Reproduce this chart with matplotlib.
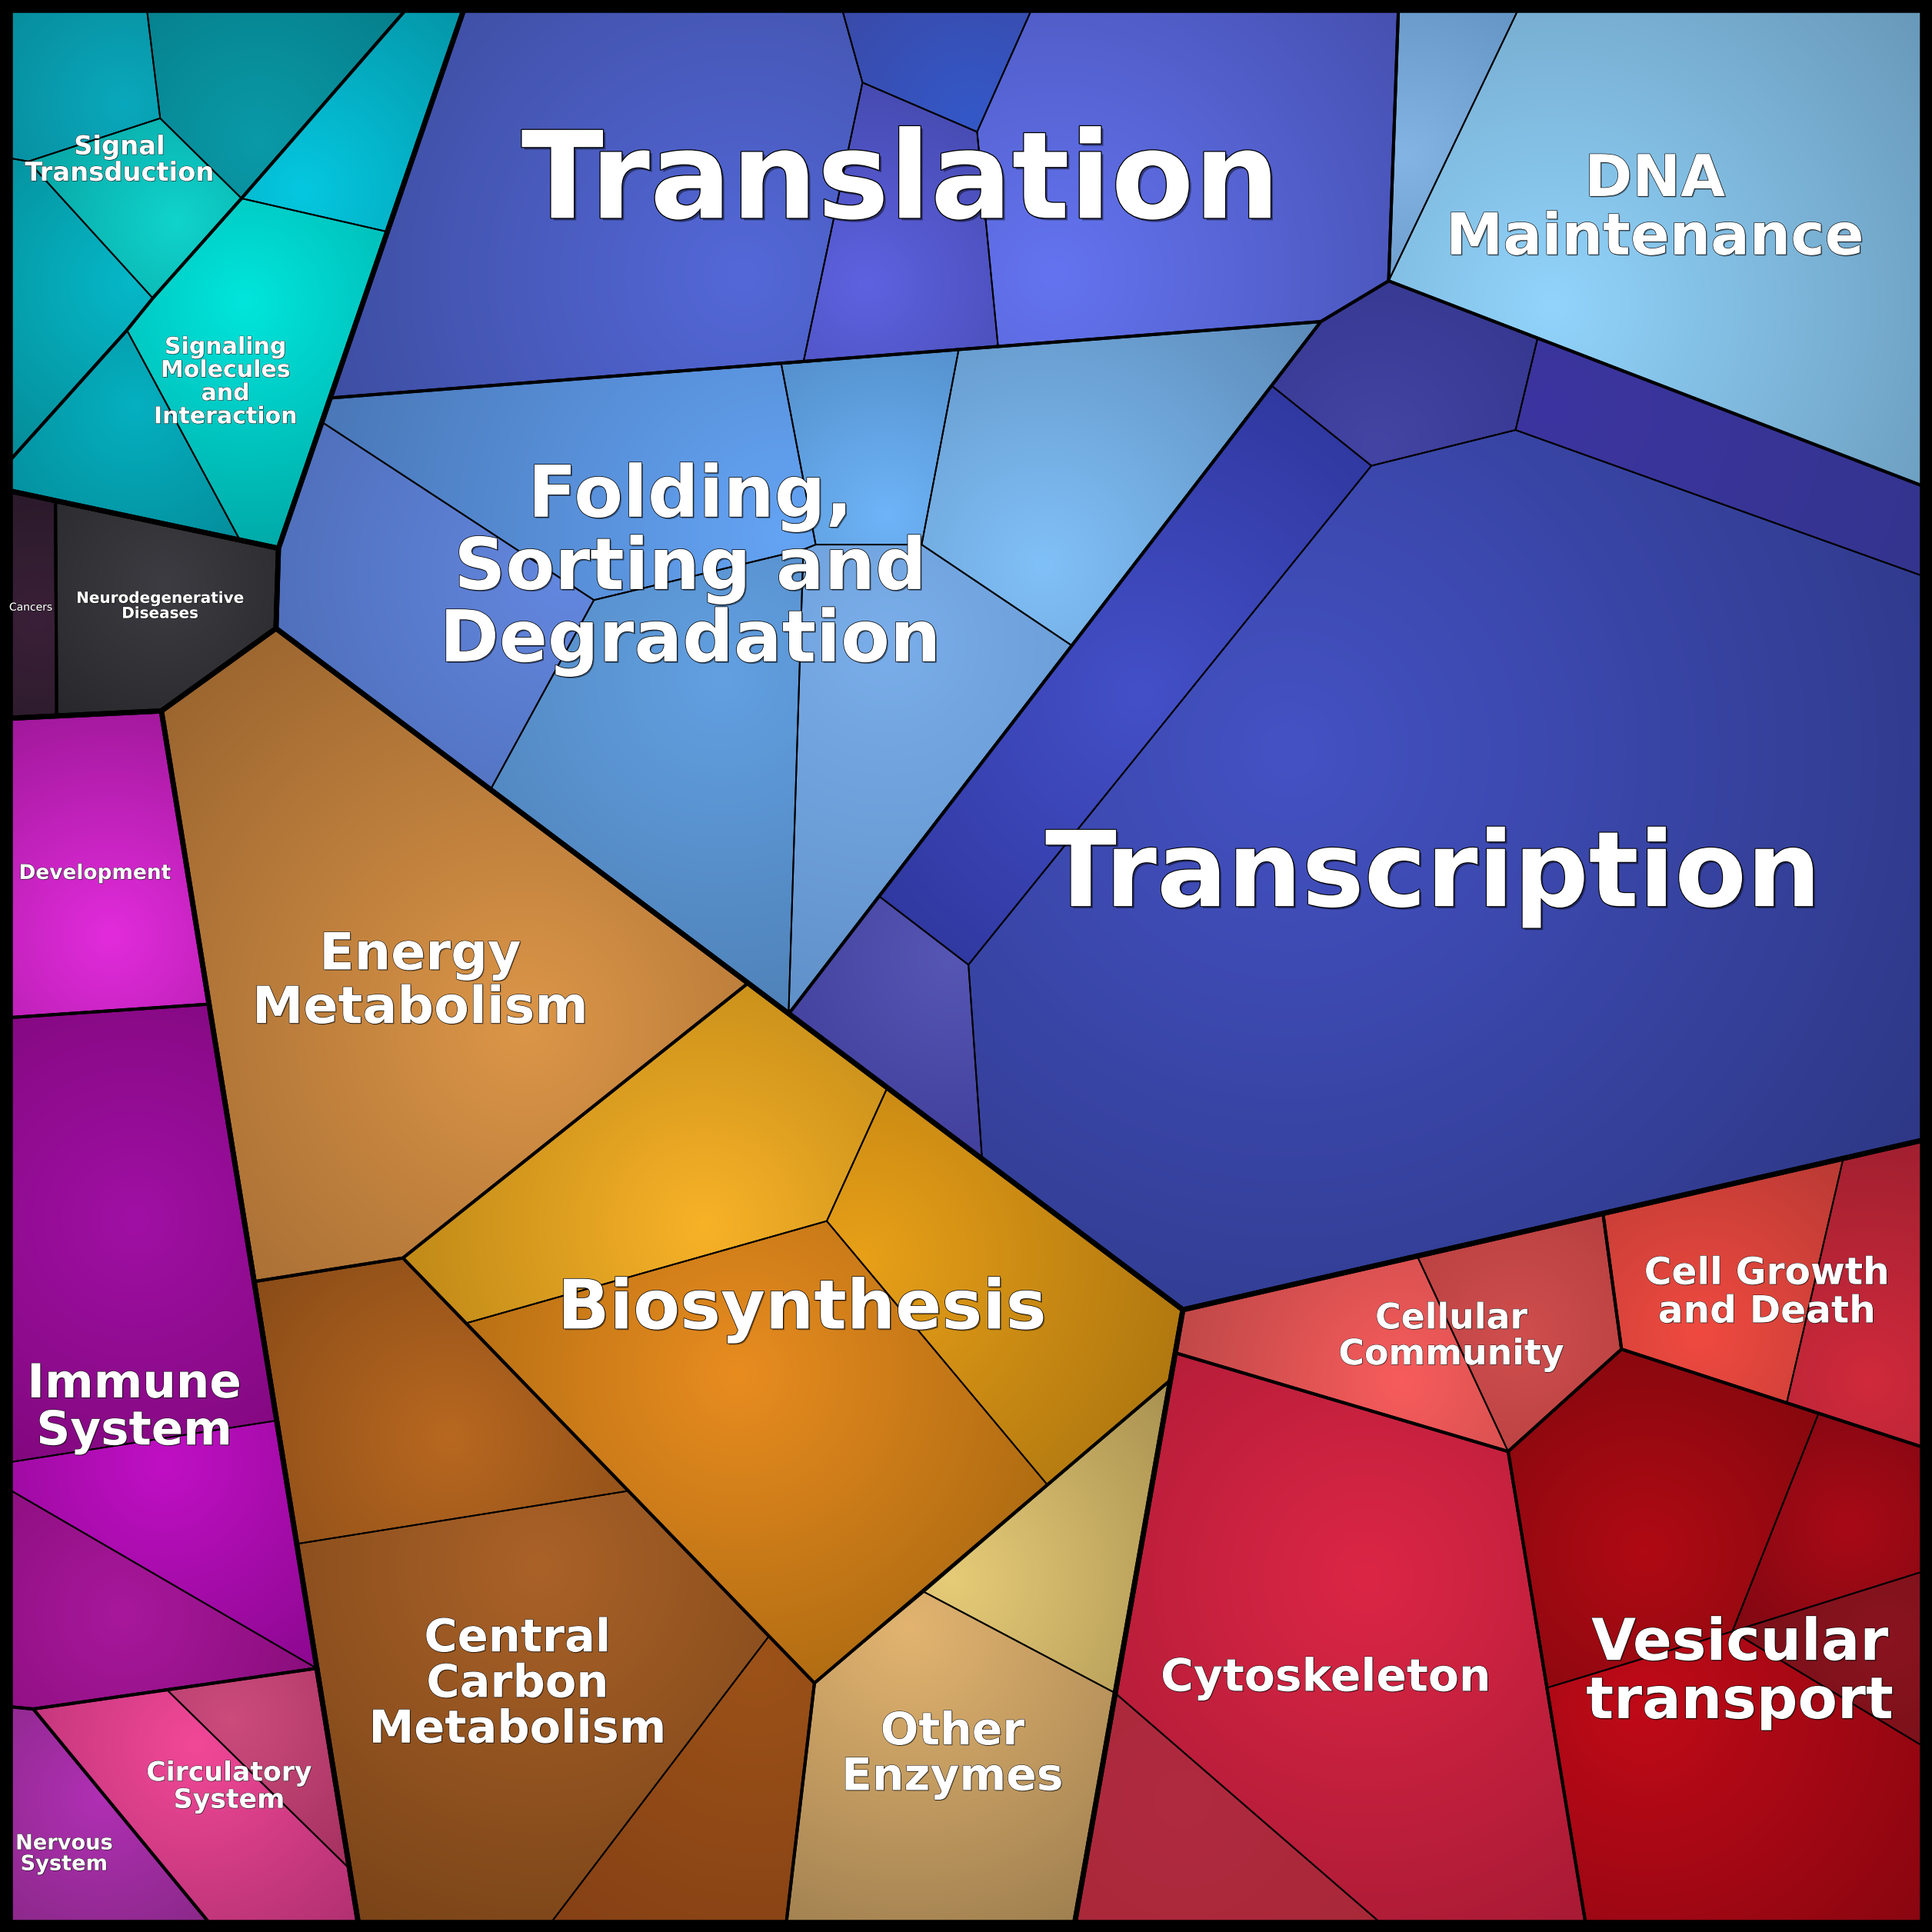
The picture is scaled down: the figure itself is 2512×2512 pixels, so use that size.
import numpy as np
import matplotlib.pyplot as plt
from matplotlib.patches import Polygon
from matplotlib.colors import to_rgb
import matplotlib.patheffects as pe

# layout grid: 1568 x 1568 units, y grows downwards
nodes = {
    'tl': (6, 6), 'tr': (1562, 6), 'bl': (6, 1562), 'br': (1562, 1562),
    # environmental
    't_b': (119, 6), 't_c': (331, 6), 't_d': (377, 6), 't_e': (130, 96), 't_f': (23, 131),
    't_g': (6, 128), 't_h': (196, 161), 't_i': (314, 188), 't_j': (124, 242), 't_k': (103, 268),
    't_l': (6, 376), 't_m': (226, 445), 't_n': (194, 437), 't_o': (6, 398),
    # diseases
    'd_a': (45, 406), 'd_b': (224, 510), 'd_c': (131, 577), 'd_d': (46, 581), 'd_e': (6, 583),
    # translation
    'g1': (683, 6), 'g2': (700, 67), 'g3': (838, 6), 'g4': (793, 107), 'g5': (810, 281),
    'g6': (652, 294), 'g7': (1135, 6), 'g8': (1127, 228), 'g9': (1072, 261), 'g0': (268, 323),
    # folding
    'f1': (634, 295), 'f2': (662, 442), 'f3': (748, 442), 'f4': (778, 284), 'f5': (870, 524),
    'f6': (482, 487), 'f7': (262, 343), 'f8': (398, 641), 'f9': (652, 446), 'f10': (640, 823),
    # transcription
    'r1': (1032, 313), 'r2': (1113, 378), 'r3': (1230, 349), 'r4': (1248, 274), 'r5': (1562, 395),
    'r6': (1562, 468), 'r7': (786, 783), 'r8': (713, 727), 'r9': (797, 940), 'r10': (1562, 925),
    'r11': (960, 1063),
    # dna
    'n1': (1233, 6),
    # metabolism
    'm1': (720, 883), 'm2': (671, 991), 'm3': (378, 1074), 'm4': (327, 1021), 'm5': (607, 798),
    'm6': (950, 1120), 'm7': (850, 1205), 'm8': (661, 1366), 'm9': (207, 1040), 'm10': (241, 1253),
    'm11': (510, 1210), 'm12': (624, 1328), 'm13': (446, 1562), 'm14': (291, 1562), 'm15': (638, 1562),
    'm16': (750, 1292), 'm17': (905, 1374), 'm18': (872, 1562),
    # cellular processes
    'c1': (1150, 1019), 'c2': (1301, 985), 'c3': (1316, 1095), 'c4': (1224, 1178), 'c5': (954, 1098),
    'c6': (1496, 940), 'c7': (1450, 1139), 'c8': (1562, 1175), 'c9': (1476, 1147), 'c10': (1287, 1562),
    'c11': (1122, 1562), 'c12': (1406, 1324), 'c13': (1255, 1370), 'c14': (1562, 1275), 'c15': (1562, 1418),
    # organismal
    'o1': (169, 815), 'o2': (6, 826), 'o3': (224, 1153), 'o4': (6, 1187), 'o5': (6, 1208),
    'o6': (257, 1354), 'o7': (27, 1387), 'o8': (6, 1385), 'o9': (135, 1371), 'o10': (284, 1517),
    'o11': (171, 1562),
}

# leaf cells
cell_nodes = [
    ['tl', 't_b', 't_e', 't_f', 't_g'],
    ['t_b', 't_c', 't_h', 't_e'],
    ['t_f', 't_e', 't_h', 't_j'],
    ['t_g', 't_f', 't_j', 't_k', 't_l'],
    ['t_c', 't_d', 't_i', 't_h'],
    ['t_h', 't_i', 't_m', 't_n', 't_k', 't_j'],
    ['t_l', 't_k', 't_n', 't_o'],
    ['t_o', 'd_a', 'd_d', 'd_e'],
    ['d_a', 't_m', 'd_b', 'd_c', 'd_d'],
    ['t_d', 'g1', 'g2', 'g6', 'g0'],
    ['g1', 'g3', 'g4', 'g2'],
    ['g2', 'g4', 'g5', 'g6'],
    ['g3', 'g7', 'g8', 'g9', 'g5', 'g4'],
    ['g0', 'f1', 'f2', 'f9', 'f6', 'f7'],
    ['f7', 'f6', 'f8', 'd_b', 't_m'],
    ['f6', 'f9', 'f10', 'f8'],
    ['f1', 'f4', 'f3', 'f2'],
    ['f4', 'g9', 'f5', 'f3'],
    ['f9', 'f2', 'f3', 'f5', 'f10'],
    ['g7', 'n1', 'g8'],
    ['n1', 'tr', 'r5', 'g8'],
    ['g9', 'g8', 'r4', 'r3', 'r2', 'r1'],
    ['r4', 'r5', 'r6', 'r3'],
    ['r1', 'r2', 'r7', 'r8'],
    ['r8', 'r7', 'r9', 'f10'],
    ['r2', 'r3', 'r6', 'r10', 'r11', 'r9', 'r7'],
    ['d_c', 'd_b', 'm5', 'm4', 'm9'],
    ['m5', 'm1', 'm2', 'm3', 'm4'],
    ['m1', 'r11', 'm6', 'm7', 'm2'],
    ['m3', 'm2', 'm7', 'm8'],
    ['m9', 'm4', 'm11', 'm10'],
    ['m10', 'm11', 'm12', 'm13', 'm14'],
    ['m12', 'm8', 'm15', 'm13'],
    ['m16', 'm6', 'm17'],
    ['m8', 'm16', 'm17', 'm18', 'm15'],
    ['r11', 'c1', 'c4', 'c5'],
    ['c1', 'c2', 'c3', 'c4'],
    ['c2', 'c6', 'c7', 'c3'],
    ['c6', 'r10', 'c8', 'c7'],
    ['c5', 'c4', 'c10', 'c11', 'm17'],
    ['m17', 'c11', 'm18'],
    ['c4', 'c3', 'c9', 'c12', 'c13'],
    ['c9', 'c8', 'c14', 'c12'],
    ['c12', 'c14', 'c15'],
    ['c13', 'c12', 'c15', 'br', 'c10'],
    ['d_e', 'd_c', 'o1', 'o2'],
    ['o2', 'o1', 'o3', 'o4'],
    ['o4', 'o3', 'o6', 'o5'],
    ['o5', 'o6', 'o7', 'o8'],
    ['o7', 'o9', 'o10', 'm14', 'o11'],
    ['o9', 'o6', 'o10'],
    ['o8', 'o7', 'o11', 'bl'],
]
# brightest point of each cell (its voronoi site)
cell_glow = [
    (100, 85), (210, 115), (143, 180), (107, 230), (245, 155), (199, 245), (110, 330),
    (31, 505), (133, 474),
    (603, 223), (788, 95), (703, 231), (855, 223),
    (637, 434), (460, 466), (586, 550), (720, 418), (847, 458), (720, 521),
    (1141, 127), (1260, 248),
    (1118, 363), (1257, 330), (925, 564), (775, 776), (1046, 609),
    (426, 833), (571, 994), (699, 1021), (599, 1115), (365, 1167), (437, 1271), (615, 1350),
    (771, 1282), (738, 1320),
    (1138, 1121), (1230, 1085), (1379, 1083), (1516, 1121), (1109, 1280), (960, 1460),
    (1335, 1259), (1500, 1240), (1530, 1330), (1335, 1384),
    (90, 760), (110, 990), (133, 1188), (100, 1310), (158, 1416), (187, 1395), (83, 1458),
]
cell_inner = [
    '#0aa8bc', '#0a9aa8', '#10d4cc', '#06b8c8', '#04c8e0', '#00e6dc', '#04b0c0',
    '#3a2038', '#3c3c42',
    '#5468d8', '#3458c8', '#5e62e0', '#6474f0',
    '#64a4f4', '#6488e0', '#62a0e2', '#6eb4f8', '#80c0f8', '#7aaeea',
    '#84b4e4', '#92d4fc',
    '#4444a4', '#3c34a0', '#4450c8', '#5656b4', '#4452c4',
    '#dc9648', '#f8b228', '#e8a018', '#e88c20', '#b86820', '#aa6228', '#9c5218', '#e6cc78', '#e2b470',
    '#f85c5c', '#d04e4e', '#f04a40', '#d02a3c', '#dc2646', '#b02a40',
    '#b00a14', '#a80a16', '#8a1420', '#c00a18',
    '#e22cdc', '#a010a4', '#c010c4', '#a8189c', '#f24898', '#cc4c7c', '#b030b4',
]
cell_outer = [
    '#078c9c', '#067e8a', '#08a4a4', '#058a96', '#0494a6', '#00aaa8', '#048e9c',
    '#2a1a2a', '#28282c',
    '#3e4ea2', '#3a4aa8', '#464ab0', '#4650b0',
    '#4a78b8', '#5070bc', '#4f82b8', '#5490cc', '#5c8ab8', '#6090c8',
    '#6494c4', '#6898b8',
    '#363890', '#34348e', '#3038a0', '#42409c', '#2e3886',
    '#9c6630', '#c08a18', '#b07810', '#b06c12', '#8a4c18', '#7a4418', '#854015', '#a89050', '#a08050',
    '#c04848', '#b84040', '#b83a34', '#a02030', '#a81a34', '#a82838',
    '#86080e', '#800812', '#781018', '#880610',
    '#a0189a', '#82087e', '#8c0890', '#8a0e7c', '#b03070', '#a43060', '#8a2888',
]

# second level categories
sub_groups = {
    'Signal Transduction': ['tl', 't_c', 't_h', 't_j', 't_k', 't_l'],
    'Signaling Molecules': ['t_c', 't_d', 't_m', 't_o', 't_l', 't_k', 't_j', 't_h'],
    'Cancers': ['t_o', 'd_a', 'd_d', 'd_e'],
    'Neurodegenerative': ['d_a', 't_m', 'd_b', 'd_c', 'd_d'],
    'Translation': ['t_d', 'g7', 'g8', 'g9', 'g0'],
    'Folding': ['g0', 'g9', 'f10', 'd_b', 't_m'],
    'Transcription': ['g9', 'g8', 'r5', 'r10', 'r11', 'f10'],
    'DNA': ['g7', 'tr', 'r5', 'g8'],
    'Energy': ['d_c', 'd_b', 'm5', 'm4', 'm9'],
    'Biosynthesis': ['m5', 'r11', 'm6', 'm8', 'm4'],
    'Central Carbon': ['m9', 'm4', 'm8', 'm15', 'm14'],
    'Other Enzymes': ['m8', 'm6', 'm18', 'm15'],
    'Cellular Community': ['r11', 'c2', 'c3', 'c4', 'c5'],
    'Cell Growth': ['c2', 'r10', 'c8', 'c3'],
    'Cytoskeleton': ['c5', 'c4', 'c10', 'm18'],
    'Vesicular': ['c4', 'c3', 'c8', 'br', 'c10'],
    'Development': ['d_e', 'd_c', 'o1', 'o2'],
    'Immune': ['o2', 'o1', 'o6', 'o7', 'o8'],
    'Circulatory': ['o7', 'o6', 'm14', 'o11'],
    'Nervous': ['o8', 'o7', 'o11', 'bl'],
}
top_groups = {
    'Environmental': ['tl', 't_d', 't_m', 't_o'],
    'Diseases': ['t_o', 't_m', 'd_b', 'd_c', 'd_e'],
    'Genetic': ['t_d', 'tr', 'r10', 'r11', 'd_b', 't_m'],
    'Metabolism': ['d_c', 'd_b', 'r11', 'm18', 'm14'],
    'Cellular': ['r11', 'r10', 'br', 'm18'],
    'Organismal': ['d_e', 'd_c', 'm14', 'bl'],
}

labels = ['Translation', 'Transcription', 'Folding,\nSorting and\nDegradation', 'DNA\nMaintenance',
          'Energy\nMetabolism', 'Biosynthesis', 'Central\nCarbon\nMetabolism', 'Other\nEnzymes',
          'Cytoskeleton', 'Vesicular\ntransport', 'Cellular\nCommunity', 'Cell Growth\nand Death',
          'Immune\nSystem', 'Development', 'Circulatory\nSystem', 'Nervous\nSystem',
          'Signal\nTransduction', 'Signaling\nMolecules\nand\nInteraction',
          'Neurodegenerative\nDiseases', 'Cancers']
label_x = [731, 1163, 560, 1343, 341, 651, 420, 773, 1076, 1412, 1178, 1434,
           109, 77, 186, 52, 97, 183, 130, 25]
label_y = [150, 712, 462, 170, 797, 1063, 1367, 1424, 1362, 1358, 1085, 1049,
           1143, 709, 1450, 1505, 130, 310, 492, 493]
label_size = [113, 98, 67, 54, 48, 64, 42.5, 42, 42, 54, 33, 35,
              44, 19, 25, 19.6, 24.3, 21.6, 14.4, 10]

fig = plt.figure(figsize=(25.12, 25.12), dpi=100, facecolor='black')
ax = fig.add_axes([0, 0, 1, 1])
ax.set_facecolor('black')


def pts_of(names):
    return np.array([nodes[n] for n in names], dtype=float)


for names, (gx, gy), cin, cout in zip(cell_nodes, cell_glow, cell_inner, cell_outer):
    p = pts_of(names)
    x0, x1 = p[:, 0].min() - 2, p[:, 0].max() + 2
    y0, y1 = p[:, 1].min() - 2, p[:, 1].max() + 2
    nx, ny = int((x1 - x0) * 1.7) + 2, int((y1 - y0) * 1.7) + 2
    X, Y = np.meshgrid(np.linspace(x0, x1, nx), np.linspace(y0, y1, ny))
    r = np.hypot(p[:, 0] - gx, p[:, 1] - gy).max()
    t = np.clip(np.hypot(X - gx, Y - gy) / r, 0, 1)[..., None]
    img = np.array(to_rgb(cin)) * (1 - t) + np.array(to_rgb(cout)) * t
    im = ax.imshow(img, extent=(x0, x1, y1, y0), origin='upper', interpolation='bilinear', zorder=1)
    poly = Polygon(p, closed=True, fc='none', ec='black', lw=1.4, zorder=2)
    ax.add_patch(poly)
    im.set_clip_path(poly)

for names in sub_groups.values():
    ax.add_patch(Polygon(pts_of(names), closed=True, fc='none', ec='black', lw=2.9,
                         joinstyle='miter', zorder=3))
for names in top_groups.values():
    ax.add_patch(Polygon(pts_of(names), closed=True, fc='none', ec='black', lw=4.8,
                         joinstyle='miter', zorder=4))
ax.add_patch(Polygon(pts_of(['tl', 'tr', 'br', 'bl']), closed=True, fc='none', ec='black',
                     lw=9, zorder=5))

for txt, x, y, s in zip(labels, label_x, label_y, label_size):
    w = 'normal' if txt == 'Cancers' else 'bold'
    sh = max(0.6, s * 0.02)
    ax.text(x, y, txt, ha='center', va='center', fontsize=s, fontweight=w, color='white',
            family='DejaVu Sans', linespacing=1.05, multialignment='center', zorder=6,
            path_effects=[pe.withSimplePatchShadow(offset=(sh, -sh), shadow_rgbFace='black', alpha=0.45),
                          pe.withStroke(linewidth=max(0.5, s * 0.016), foreground='black')])

ax.set_xlim(0, 1568)
ax.set_ylim(1568, 0)
ax.set_aspect('auto')
ax.axis('off')
fig.savefig('out.png', dpi=100, facecolor='black')
